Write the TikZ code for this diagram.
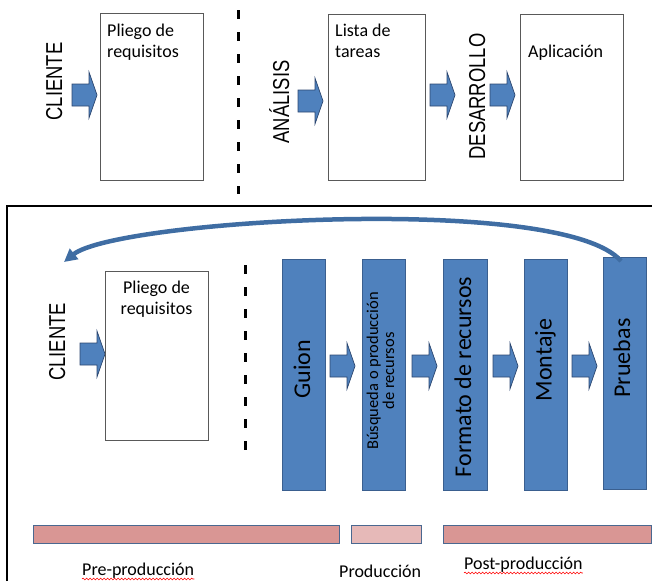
\documentclass[tikz,border=0pt]{standalone}
\usepackage{fontspec}
\setmainfont{Carlito}
\newfontfamily\capfont[FakeStretch=0.8]{Liberation Sans}
\usetikzlibrary{arrows.meta,decorations.pathmorphing}
\definecolor{boxblue}{HTML}{4F81BD}
\definecolor{boxblueline}{HTML}{3A5F8F}
\definecolor{arrline}{HTML}{2C4770}
\definecolor{barred}{HTML}{D99694}
\definecolor{barlight}{HTML}{E6B9B8}
\definecolor{barline}{HTML}{4A6890}
\definecolor{curveblue}{HTML}{3F6DA3}
\definecolor{framegray}{HTML}{595959}
\begin{document}
\begin{tikzpicture}[x=1pt,y=-1pt,
  whitebox/.style={draw=framegray,line width=0.8pt,fill=white,anchor=north west,inner sep=0pt},
  column/.style={draw=boxblueline,line width=1pt,fill=boxblue,anchor=north west,inner sep=0pt,minimum width=43pt,minimum height=231pt},
  bar/.style={draw=barline,line width=1.4pt,anchor=north west,inner sep=0pt,minimum height=18pt},
  captext/.style={rotate=90,anchor=base,inner sep=0pt,font=\capfont\fontsize{23}{23}\selectfont},
  coltext/.style={rotate=90,anchor=base,inner sep=0pt,font=\fontsize{24}{24}\selectfont},
  boxtext/.style={inner sep=0pt,font=\fontsize{18}{21}\selectfont},
  dashline/.style={line width=3pt,dash pattern=on 9pt off 13pt},
  blockarrow/.pic={\draw[fill=boxblue,draw=arrline,line width=0.7pt] (0,-11) -- (17,-11) -- (17,-23) -- (25,0) -- (17,23) -- (17,11) -- (0,11) -- cycle;},
  wavy/.style={draw=red,line width=0.6pt,decorate,decoration={snake,amplitude=0.9pt,segment length=3.5pt}}
]
\useasboundingbox (0,0) rectangle (652,581);

% ---------- top section ----------
\node[captext] (cli1) at (62,81.5) {CLIENTE};
\pic at (72,95) {blockarrow};
\node[whitebox,minimum width=103pt,minimum height=167pt] (req1) at (100,13) {};
\node[boxtext,anchor=north west,align=left] (req1t) at (107,23.5) {Pliego de\\requisitos};
\draw[dashline] (238,10) -- (238,194);
\node[captext] (ana) at (289,102) {ANÁLISIS};
\pic at (298,101) {blockarrow};
\node[whitebox,minimum width=97pt,minimum height=166pt] (tar) at (328,14) {};
\node[boxtext,anchor=north west,align=left] (tart) at (335,23.5) {Lista de\\tareas};
\pic at (430,95) {blockarrow};
\node[captext] (des) at (485,96.5) {DESARROLLO};
\pic at (490,95) {blockarrow};
\node[whitebox,minimum width=103pt,minimum height=166pt] (app) at (520,14) {};
\node[boxtext,anchor=north west,align=left] (appt) at (528,44.5) {Aplicación};

% ---------- bottom section ----------
\draw[line width=1.5pt] (7,581) -- (7,206) -- (652,206);
\node[captext] (cli2) at (65,342) {CLIENTE};
\pic at (80,354) {blockarrow};
\node[whitebox,minimum width=103pt,minimum height=169pt] (req2) at (105,271) {};
\node[boxtext,anchor=north,align=center] (req2t) at (156.5,280.5) {Pliego de\\requisitos};
\draw[dashline] (245,265) -- (245,456);

\node[column] (guion) at (282,259) {};
\node[column] (busq) at (362,259) {};
\node[column,minimum width=44pt] (form) at (443,259) {};
\node[column] (mont) at (524,259) {};
\node[column,minimum height=232pt] (prue) at (603,257) {};

\node[coltext] (guiont) at (310,369) {Guion};
\node[rotate=90,anchor=center,inner sep=0pt,align=center,font=\fontsize{16.5}{16}\selectfont] (busqt) at (380.5,371) {Búsqueda o producción\\de recursos};
\node[coltext] (formt) at (471,377) {Formato de recursos};
\node[coltext] (montt) at (551.5,360) {Montaje};
\node[coltext] (pruet) at (630,358) {Pruebas};

\pic at (330,366) {blockarrow};
\pic at (412,366) {blockarrow};
\pic at (493,366) {blockarrow};
\pic at (572,366) {blockarrow};

\coordinate (ret) at (64,262);
\draw[line width=4.5pt,curveblue,-{Triangle[length=13pt,width=13pt]}] ([shift={(-4,4)}]prue.north) .. controls (562,193) and (116,220) .. (ret);

\node[bar,fill=barred,minimum width=306pt] (prebar) at (33,525) {};
\node[bar,fill=barlight,minimum width=70pt] (prodbar) at (351,525) {};
\node[bar,fill=barred,minimum width=208pt] (postbar) at (443,525) {};

\node[boxtext,anchor=base west] (prelbl) at (82,575) {Pre-producción};
\node[boxtext,anchor=base west] (prodlbl) at (339,577) {Producción};
\node[boxtext,anchor=base west] (postlbl) at (464,569) {Post-producción};
\draw[wavy] ([yshift=-4pt]prelbl.base west) -- ([yshift=-4pt]prelbl.base east);
\draw[wavy] ([yshift=-4pt]postlbl.base west) -- ([yshift=-4pt]postlbl.base east);
\end{tikzpicture}
\end{document}
